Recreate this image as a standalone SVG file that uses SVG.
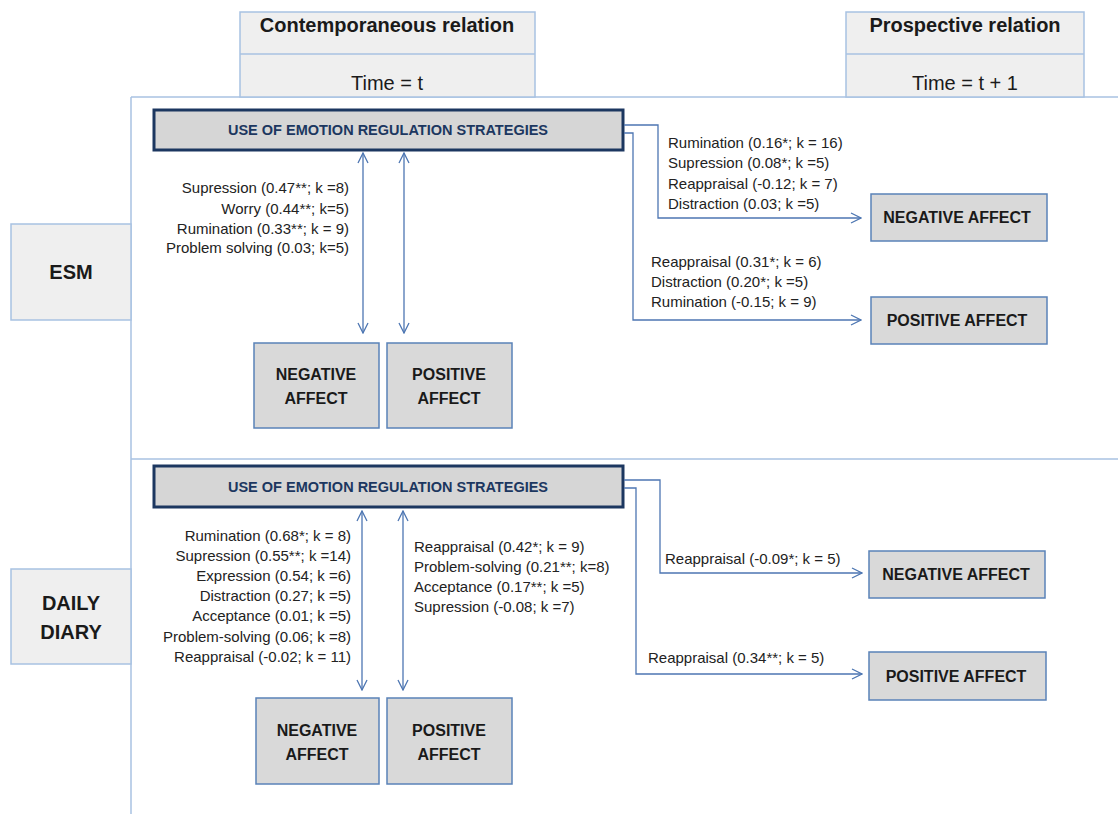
<svg xmlns="http://www.w3.org/2000/svg" width="1118" height="814" viewBox="0 0 1118 814">
<style>
.frame{stroke:#a8c2e2;stroke-width:1.5;fill:none}
.hdr{fill:#efefef;stroke:#a8c2e2;stroke-width:1.5}
.side{fill:#efefef;stroke:#a8c2e2;stroke-width:1.5}
.use{fill:#d6d6d6;stroke:#1c3760;stroke-width:3}
.box{fill:#d9d9d9;stroke:#5a82b8;stroke-width:1.5}
.conn{stroke:#4d76b2;stroke-width:1.3;fill:none}
text{font-family:"Liberation Sans",Arial,sans-serif;fill:#1a1a1a}
.ht{font-size:20px;font-weight:bold}
.hr{font-size:20px}
.st{font-size:20px;font-weight:bold}
.ut{font-size:14.5px;font-weight:bold;fill:#1c3760}
.bt{font-size:16px;font-weight:bold}
.lb{font-size:15px;fill:#222}
</style>
<defs>
<marker id="ah" viewBox="0 0 12 12" refX="11" refY="6" markerWidth="12" markerHeight="12" markerUnits="userSpaceOnUse" orient="auto-start-reverse">
<path d="M1,1 L11,6 L1,11" fill="none" stroke="#4d76b2" stroke-width="1.3"/>
</marker>
</defs>
<g id="frame">
<line class="frame" x1="131" y1="97" x2="1118" y2="97"/>
<line class="frame" x1="131" y1="97" x2="131" y2="814"/>
<line class="frame" x1="131" y1="459" x2="1118" y2="459"/>
</g>
<g id="hdr-contemp">
<rect class="hdr" x="240" y="12" width="295" height="85"/>
<line class="frame" x1="240" y1="54" x2="535" y2="54"/>
<text class="ht" x="387" y="32" text-anchor="middle">Contemporaneous relation</text>
<text class="hr" x="387" y="90" text-anchor="middle">Time = t</text>
</g>
<g id="hdr-prosp">
<rect class="hdr" x="846" y="12" width="238" height="85"/>
<line class="frame" x1="846" y1="54" x2="1084" y2="54"/>
<text class="ht" x="965" y="32" text-anchor="middle">Prospective relation</text>
<text class="hr" x="965" y="90" text-anchor="middle">Time = t + 1</text>
</g>
<g id="esm-label">
<rect class="side" x="11" y="224" width="120" height="96"/>
<text class="st" x="71" y="279" text-anchor="middle">ESM</text>
</g>
<g id="dd-label">
<rect class="side" x="11" y="569" width="120" height="95"/>
<text class="st" x="71" y="610" text-anchor="middle">DAILY</text>
<text class="st" x="71" y="639" text-anchor="middle">DIARY</text>
</g>
<g id="esm-use">
<rect class="use" x="154" y="110" width="469" height="40"/>
<text class="ut" x="388" y="135" text-anchor="middle">USE OF EMOTION REGULATION STRATEGIES</text>
</g>
<g id="esm-neg">
<rect class="box" x="254" y="343" width="125" height="85"/>
<text class="bt" x="316" y="380" text-anchor="middle">NEGATIVE</text>
<text class="bt" x="316" y="404" text-anchor="middle">AFFECT</text>
</g>
<g id="esm-pos">
<rect class="box" x="387" y="343" width="125" height="85"/>
<text class="bt" x="449" y="380" text-anchor="middle">POSITIVE</text>
<text class="bt" x="449" y="404" text-anchor="middle">AFFECT</text>
</g>
<g id="esm-neg-r">
<rect class="box" x="871" y="194" width="176" height="47"/>
<text class="bt" x="957" y="223" text-anchor="middle">NEGATIVE AFFECT</text>
</g>
<g id="esm-pos-r">
<rect class="box" x="871" y="297" width="176" height="47"/>
<text class="bt" x="957" y="326" text-anchor="middle">POSITIVE AFFECT</text>
</g>
<g id="dd-use">
<rect class="use" x="154" y="466" width="469" height="41"/>
<text class="ut" x="388" y="492" text-anchor="middle">USE OF EMOTION REGULATION STRATEGIES</text>
</g>
<g id="dd-neg">
<rect class="box" x="256" y="698" width="123" height="86"/>
<text class="bt" x="317" y="736" text-anchor="middle">NEGATIVE</text>
<text class="bt" x="317" y="760" text-anchor="middle">AFFECT</text>
</g>
<g id="dd-pos">
<rect class="box" x="387" y="698" width="125" height="86"/>
<text class="bt" x="449" y="736" text-anchor="middle">POSITIVE</text>
<text class="bt" x="449" y="760" text-anchor="middle">AFFECT</text>
</g>
<g id="dd-neg-r">
<rect class="box" x="869" y="551" width="176" height="47"/>
<text class="bt" x="956" y="580" text-anchor="middle">NEGATIVE AFFECT</text>
</g>
<g id="dd-pos-r">
<rect class="box" x="869" y="652" width="177" height="48"/>
<text class="bt" x="956" y="682" text-anchor="middle">POSITIVE AFFECT</text>
</g>
<g id="connectors">
<line class="conn" x1="363" y1="153" x2="363" y2="333" marker-start="url(#ah)" marker-end="url(#ah)"/>
<line class="conn" x1="404" y1="153" x2="404" y2="333" marker-start="url(#ah)" marker-end="url(#ah)"/>
<polyline class="conn" points="624,125 658,125 658,218 861,218" marker-end="url(#ah)"/>
<polyline class="conn" points="624,133 633,133 633,320 861,320" marker-end="url(#ah)"/>
<line class="conn" x1="362" y1="511" x2="362" y2="690" marker-start="url(#ah)" marker-end="url(#ah)"/>
<line class="conn" x1="403" y1="511" x2="403" y2="690" marker-start="url(#ah)" marker-end="url(#ah)"/>
<polyline class="conn" points="624,480 660,480 660,573 862,573" marker-end="url(#ah)"/>
<polyline class="conn" points="624,488 636,488 636,674 862,674" marker-end="url(#ah)"/>
</g>
<g id="labels">
<g text-anchor="end">
<text class="lb" x="349" y="193">Supression (0.47**; k =8)</text>
<text class="lb" x="349" y="214">Worry (0.44**;  k=5)</text>
<text class="lb" x="349" y="234">Rumination (0.33**; k = 9)</text>
<text class="lb" x="349" y="253">Problem solving (0.03; k=5)</text>
<text class="lb" x="351" y="541">Rumination (0.68*; k = 8)</text>
<text class="lb" x="351" y="561">Supression (0.55**; k =14)</text>
<text class="lb" x="351" y="581">Expression (0.54; k =6)</text>
<text class="lb" x="351" y="601">Distraction (0.27; k =5)</text>
<text class="lb" x="351" y="621">Acceptance  (0.01; k =5)</text>
<text class="lb" x="351" y="642">Problem-solving (0.06; k =8)</text>
<text class="lb" x="351" y="662">Reappraisal (-0.02; k = 11)</text>
</g>
<text class="lb" x="668" y="148">Rumination (0.16*; k = 16)</text>
<text class="lb" x="668" y="168">Supression (0.08*; k =5)</text>
<text class="lb" x="668" y="189">Reappraisal (-0.12; k = 7)</text>
<text class="lb" x="668" y="209">Distraction (0.03; k =5)</text>
<text class="lb" x="651" y="267">Reappraisal (0.31*; k = 6)</text>
<text class="lb" x="651" y="287">Distraction (0.20*; k =5)</text>
<text class="lb" x="651" y="307">Rumination (-0.15; k = 9)</text>
<text class="lb" x="414" y="552">Reappraisal (0.42*; k = 9)</text>
<text class="lb" x="414" y="572">Problem-solving (0.21**; k=8)</text>
<text class="lb" x="414" y="592">Acceptance  (0.17**;  k =5)</text>
<text class="lb" x="414" y="612">Supression (-0.08; k =7)</text>
<text class="lb" x="665" y="564">Reappraisal (-0.09*; k = 5)</text>
<text class="lb" x="648" y="663">Reappraisal (0.34**; k = 5)</text>
</g>
</svg>
